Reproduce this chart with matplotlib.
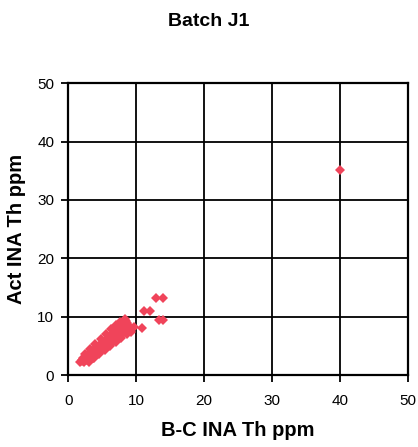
import matplotlib.pyplot as plt

plt.rcParams['font.family'] = ['Liberation Sans', 'DejaVu Sans']

# B-C INA Th ppm vs Act INA Th ppm
bc_th = [2.0, 2.2, 2.4, 2.5, 2.6, 2.8, 2.9, 3.0, 3.1, 3.2, 3.3, 3.4, 3.5, 3.6,
         3.7, 3.8, 3.9, 4.0, 4.1, 4.2, 4.3, 4.4, 4.5, 4.6, 4.7, 4.8, 4.9, 5.0,
         5.1, 5.2, 5.3, 5.4, 5.5, 5.6, 5.7, 5.8, 5.9, 6.0, 6.1, 6.2, 6.3, 6.4,
         6.5, 6.6, 6.7, 6.8, 6.9, 7.0, 7.1, 7.2, 7.3, 7.4, 7.5, 7.6, 7.7, 7.8,
         7.9, 8.0, 8.1, 8.3, 8.4, 8.6, 8.8, 9.0, 8.5, 9.3,
         2.3, 2.7, 3.4, 3.9, 4.5, 5.0, 5.6, 6.1, 6.7, 7.2, 7.8, 8.2, 1.8, 2.1,
         4.8, 5.4, 6.2, 6.9, 7.5, 8.0, 3.0, 3.6, 4.2,
         2.5, 3.2, 4.0, 4.8, 5.6, 6.3, 7.0, 7.7, 8.3,
         3.0, 3.8, 4.6, 5.4, 6.2, 7.0, 7.8, 8.6, 9.2,
         9.7, 10.9, 11.2, 12.0, 13.0, 13.9, 13.4, 14.0, 40.0]
act_th = [2.4, 2.9, 2.2, 3.1, 2.6, 3.4, 2.9, 2.5, 3.6, 3.1, 2.8, 3.9, 3.3, 4.2,
          3.0, 3.7, 4.5, 3.4, 4.0, 4.8, 3.6, 4.3, 5.0, 3.9, 4.6, 5.3, 4.1, 4.9,
          5.6, 4.4, 5.1, 5.9, 4.7, 5.4, 6.2, 5.0, 5.7, 6.5, 5.3, 6.0, 6.8, 5.6,
          6.3, 7.1, 5.9, 6.6, 7.4, 6.2, 6.9, 7.7, 6.5, 7.2, 8.0, 6.8, 7.5, 8.3,
          7.1, 7.8, 8.6, 7.4, 8.1, 8.9, 7.7, 8.4, 9.3, 7.4,
          2.7, 3.0, 3.5, 4.0, 4.6, 5.2, 5.8, 6.2, 6.9, 7.3, 7.9, 8.3, 2.2, 2.5,
          4.7, 5.3, 6.4, 7.0, 7.6, 8.1, 3.2, 3.9, 4.4,
          3.6, 4.5, 5.3, 6.2, 7.0, 7.8, 8.5, 9.1, 9.6,
          2.2, 2.9, 3.6, 4.3, 5.0, 5.7, 6.4, 7.1, 7.8,
          8.2, 8.0, 11.0, 11.0, 13.2, 13.2, 9.4, 9.4, 35.1]

ticks = [0, 10, 20, 30, 40, 50]

fig = plt.figure(figsize=(4.18, 4.47), dpi=100)
ax = fig.add_axes([0.163, 0.161, 0.813, 0.653])

ax.plot(bc_th, act_th, linestyle='none', marker='D', markersize=5,
        color='#f0445a', markeredgewidth=0, zorder=3)

ax.set_xlim(0, 50)
ax.set_ylim(0, 50)
ax.set_xticks(ticks)
ax.set_yticks(ticks)
ax.grid(True, color='black', linewidth=1.3)
for s in ax.spines.values():
    s.set_linewidth(1.6)
ax.tick_params(axis='x', direction='out', length=5, width=1.3, labelsize=11, pad=9)
ax.tick_params(axis='y', direction='out', length=5, width=1.3, labelsize=11, pad=5)

ax.set_xlabel('B-C INA Th ppm', fontsize=14.5, fontweight='bold', labelpad=9)
ax.set_ylabel('Act INA Th ppm', fontsize=14.5, fontweight='bold', labelpad=8)
fig.text(0.5, 0.953, 'Batch J1', ha='center', va='center', fontsize=14,
         fontweight='bold')

fig.savefig('out.png', dpi=100)
